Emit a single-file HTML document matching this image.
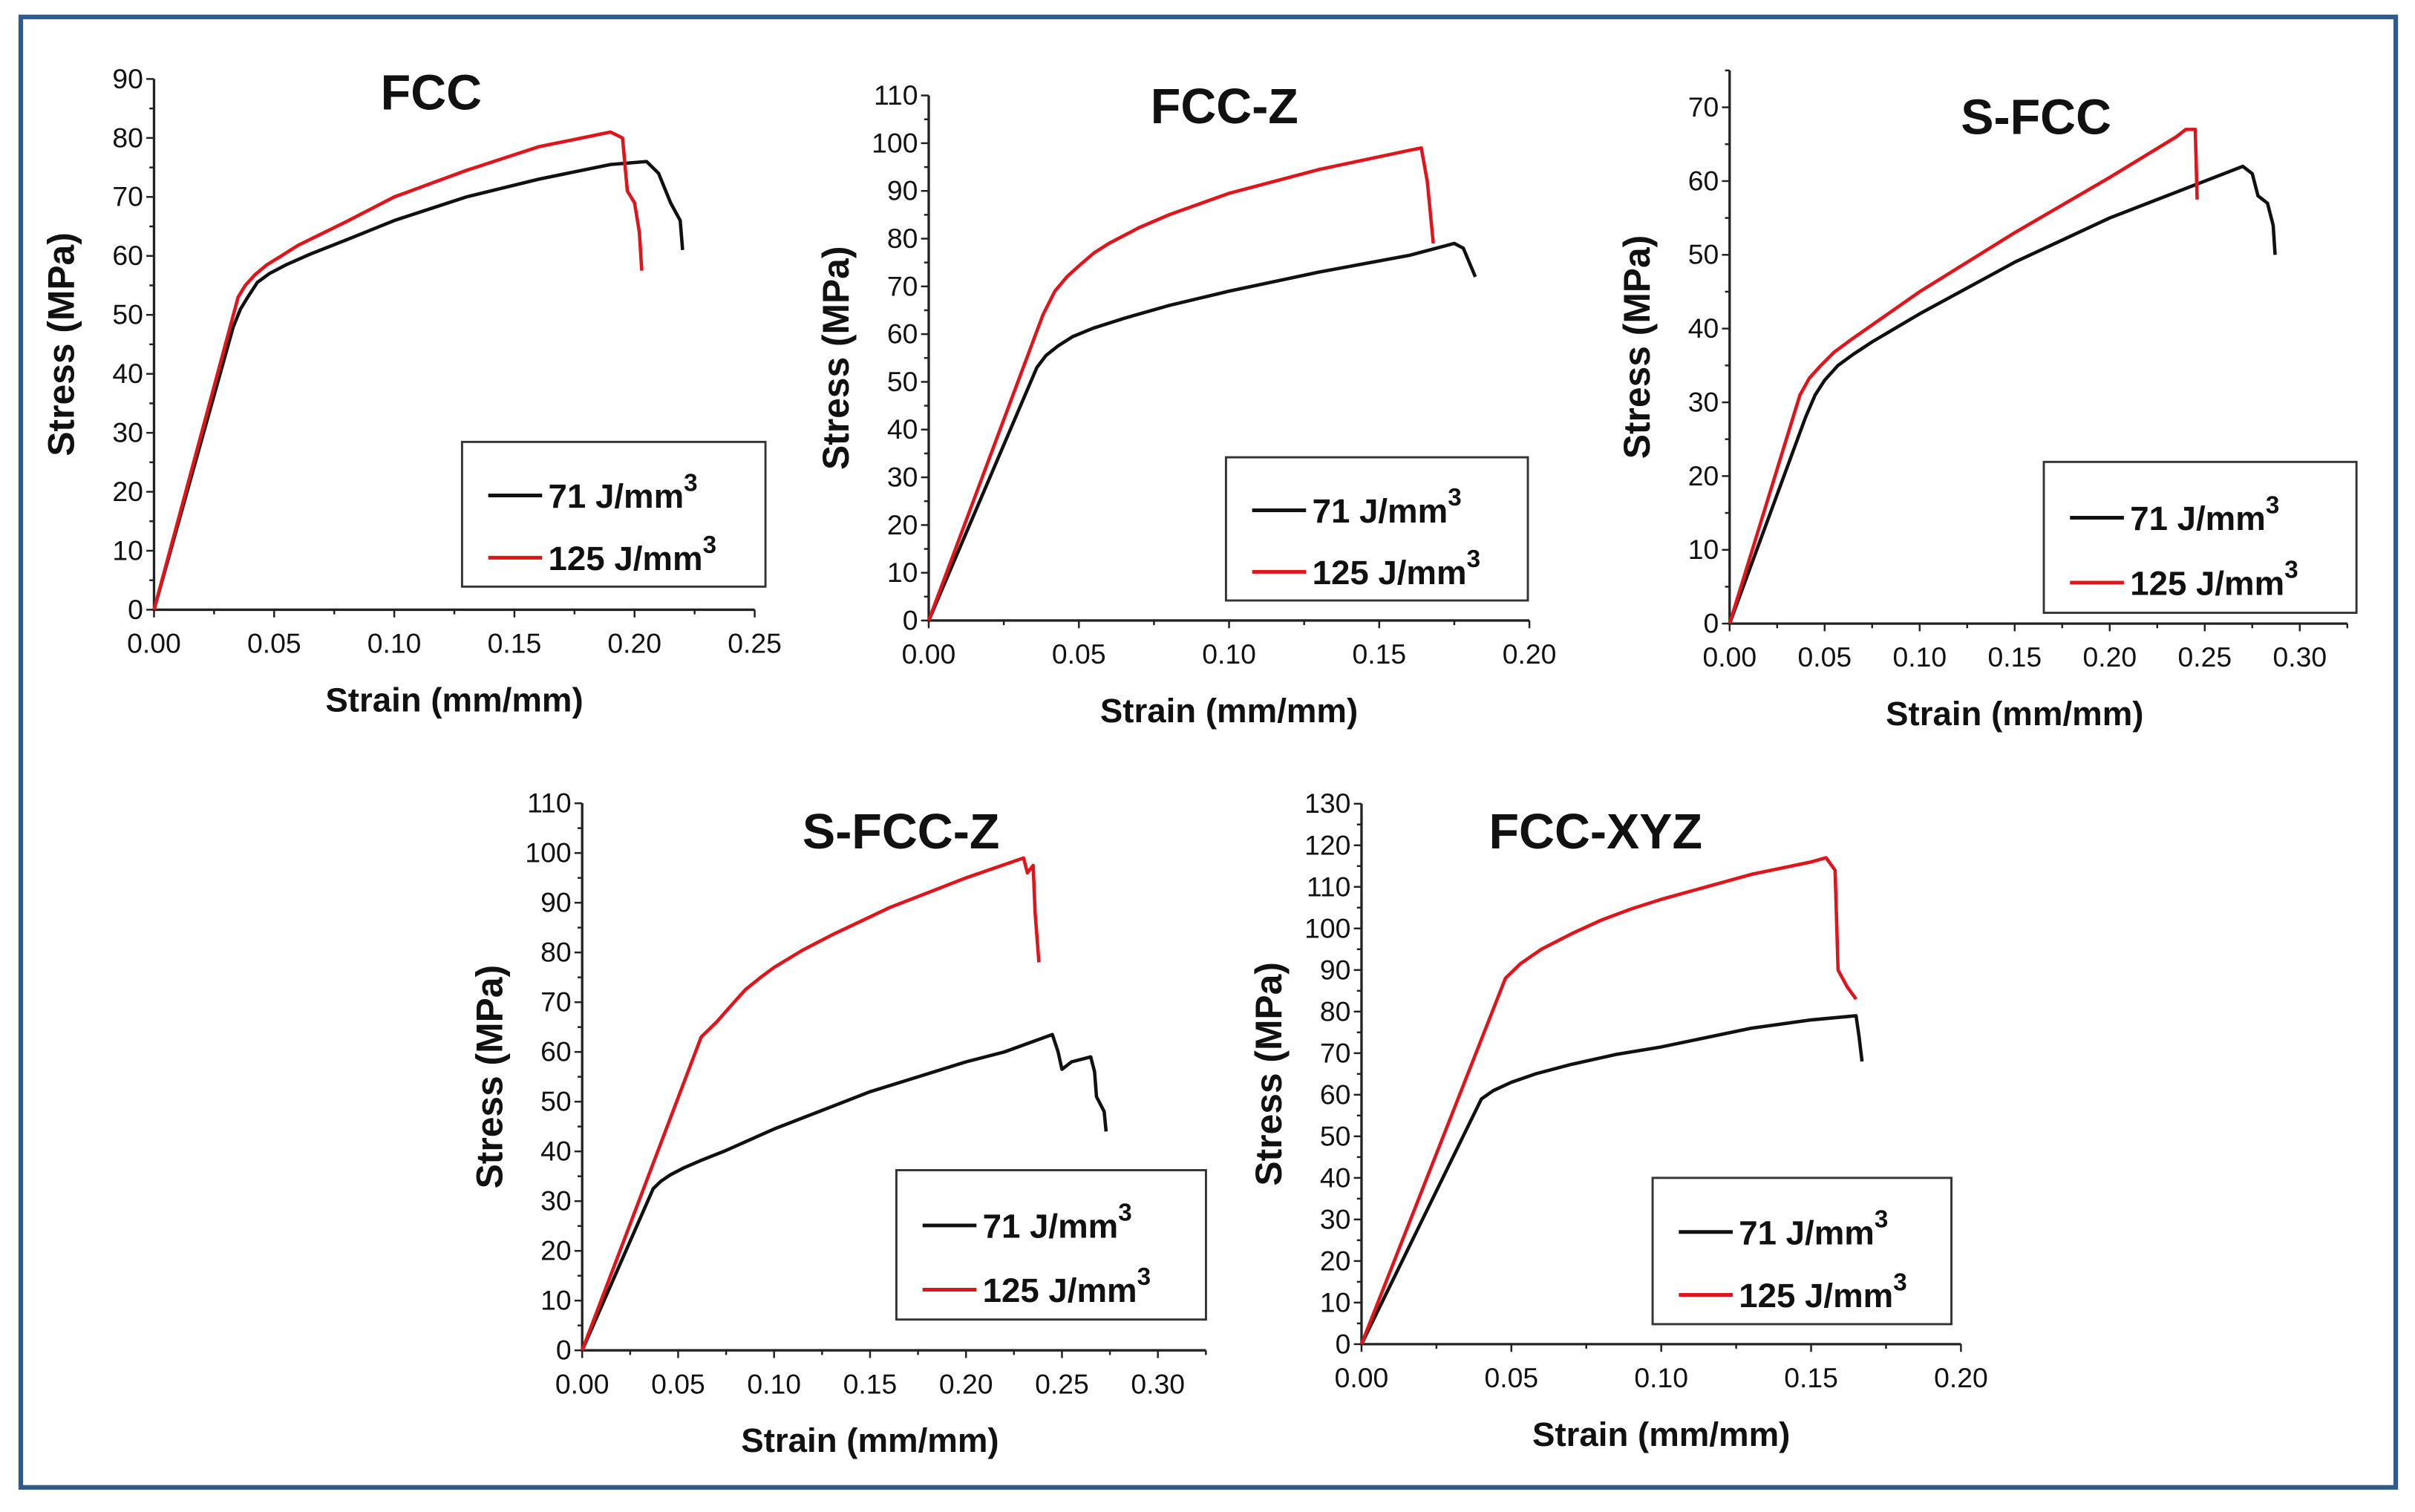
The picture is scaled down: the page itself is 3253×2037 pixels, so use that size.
<!DOCTYPE html>
<html><head><meta charset="utf-8"><style>
html,body{margin:0;padding:0;background:#fff;}
svg{display:block;}
text{font-family:"Liberation Sans",Arial,sans-serif;fill:#111;}
</style></head><body>
<svg id="fig" xmlns="http://www.w3.org/2000/svg" width="3253" height="2037" viewBox="0 0 1568 982" preserveAspectRatio="none">
<rect x="13.5" y="11" width="1542" height="955" fill="#fff" stroke="#2d5b8c" stroke-width="3"/>
</svg>
<script>
// FCC
const fccStrain71 = [0,0.033,0.036,0.039,0.043,0.048,0.055,0.065,0.08,0.10,0.13,0.16,0.19,0.205,0.21,0.215,0.219,0.22];
const fccStress71 = [0,48,51,53,55.5,57,58.5,60.3,62.7,66,70,73,75.5,76,74,69,66,61];
const fccStrain125 = [0,0.035,0.038,0.042,0.047,0.053,0.06,0.07,0.08,0.10,0.13,0.16,0.19,0.195,0.197,0.2,0.202,0.203];
const fccStress125 = [0,53,55,56.8,58.5,60,61.8,63.8,65.8,70,74.5,78.5,81,80,71,69,64,57.5];
// FCC-Z
const fcczStrain71 = [0,0.036,0.039,0.043,0.048,0.055,0.065,0.08,0.10,0.13,0.16,0.175,0.178,0.182];
const fcczStress71 = [0,53,55.5,57.5,59.5,61.3,63.3,66,69,73,76.5,79,78,72];
const fcczStrain125 = [0,0.038,0.042,0.046,0.05,0.055,0.06,0.07,0.08,0.10,0.13,0.16,0.164,0.166,0.168];
const fcczStress125 = [0,64,69,72,74.3,77,79,82.3,85,89.5,94.5,98.5,99,92,79];
// S-FCC
const sfccStrain71 = [0,0.04,0.045,0.05,0.057,0.065,0.075,0.10,0.15,0.20,0.25,0.27,0.275,0.278,0.283,0.286,0.287];
const sfccStress71 = [0,28,31,33,35,36.5,38.2,42,49,55,60,62,61,58,57,54,50];
const sfccStrain125 = [0,0.037,0.042,0.048,0.055,0.065,0.075,0.10,0.15,0.20,0.235,0.24,0.245,0.246];
const sfccStress125 = [0,31,33.3,35,36.8,38.7,40.5,45,53,60.5,66,67,67,57.5];
// S-FCC-Z
const sfcczStrain71 = [0,0.037,0.041,0.046,0.053,0.062,0.075,0.10,0.15,0.20,0.22,0.245,0.248,0.25,0.255,0.265,0.267,0.268,0.272,0.273];
const sfcczStress71 = [0,32.5,34,35.3,36.7,38.2,40.2,44.5,52,58,60,63.5,60,56.5,58,59,56,51,48,44];
const sfcczStrain125 = [0,0.062,0.07,0.078,0.085,0.093,0.10,0.115,0.13,0.16,0.20,0.23,0.232,0.235,0.236,0.238];
const sfcczStress125 = [0,63,66,69.5,72.5,75,77,80.5,83.5,89,95,99,96,97.5,88,78];
// FCC-XYZ
const xyzStrain71 = [0,0.04,0.044,0.05,0.058,0.07,0.085,0.10,0.13,0.15,0.165,0.166,0.167];
const xyzStress71 = [0,59,61,63,65,67.3,69.7,71.5,76,78,79,74,68];
const xyzStrain125 = [0,0.048,0.053,0.06,0.07,0.08,0.09,0.10,0.13,0.15,0.155,0.158,0.159,0.162,0.164,0.165];
const xyzStress125 = [0,88,91.5,95,98.7,102,104.7,107,113,116,117,114,90,86,84,83];
// tick labels
const xTicks25 = ["0.00","0.05","0.10","0.15","0.20","0.25"];
const xTicks20 = ["0.00","0.05","0.10","0.15","0.20"];
const xTicks30 = ["0.00","0.05","0.10","0.15","0.20","0.25","0.30"];
const legendLabels = ["71 J/mm","125 J/mm"];

const NS="http://www.w3.org/2000/svg";
const svg=document.getElementById('fig');
function mk(tag,attrs,parent){const e=document.createElementNS(NS,tag);for(const k in attrs)e.setAttribute(k,attrs[k]);(parent||svg).appendChild(e);return e;}

function chart(c){
  const g=mk('g',{});
  
  
  const sx=v=>c.x0+(v/c.xstep)*c.xpx;
  const sy=v=>c.y0-(v/c.ystep)*c.ypx;
  const xEnd=sx(c.xmax), yTop=sy(c.ymax);
  const ax=mk('path',{d:`M${c.x0},${yTop}V${c.y0}H${xEnd}`,fill:'none',stroke:'#222','stroke-width':1.6},g);
  
  
  for(let v=0; v<=c.ymax+1e-9; v+=c.ystep/2){
    const major=Math.abs((v/c.ystep)-Math.round(v/c.ystep))<1e-6;
    const y=sy(v);
    mk('line',{x1:c.x0,x2:c.x0-(major?5:3),y1:y,y2:y,stroke:'#222','stroke-width':1.2},g);
    if(major && v<=c.ylabelMax+1e-9){
      const t=mk('text',{x:c.x0-7,y:y+6,'text-anchor':'end','font-size':18},g);
      
      
      t.textContent=String(Math.round(v));
    }
  }
  for(let v=0; v<=c.xmax+1e-9; v+=c.xstep/2){
    const major=Math.abs((v/c.xstep)-Math.round(v/c.xstep))<1e-6;
    const x=sx(v);
    mk('line',{x1:x,x2:x,y1:c.y0,y2:c.y0+(major?5:3),stroke:'#222','stroke-width':1.2},g);
  }
  c.xticks.forEach((lab,i)=>{
    const t=mk('text',{x:sx(i*c.xstep),y:c.y0+28,'text-anchor':'middle','font-size':18},g);
    
    
    t.textContent=lab;
  });
  const xt=mk('text',{x:(c.x0+sx((c.xticks.length-1)*c.xstep))/2,y:c.y0+66,'text-anchor':'middle','font-size':22,'font-weight':'bold'},g);
  
  
  xt.textContent='Strain (mm/mm)';
  const ymid=(c.y0+yTop)/2;
  const yt=mk('text',{x:c.x0-52,y:ymid,'text-anchor':'middle','font-size':24,'font-weight':'bold',transform:`rotate(-90 ${c.x0-52} ${ymid})`},g);
  
  
  yt.textContent='Stress (MPa)';
  const tt=mk('text',{x:c.tx,y:c.ty,'text-anchor':'middle','font-size':32,'font-weight':'bold'},g);
  
  
  tt.textContent=c.title;
  [[c.s71x,c.s71y,'#111','71'],[c.s125x,c.s125y,'#e0141b','125']].forEach(s=>{
    const d=s[0].map((v,i)=>(i?'L':'M')+sx(v).toFixed(2)+','+sy(s[1][i]).toFixed(2)).join('');
    const p=mk('path',{d:d,fill:'none',stroke:s[2],'stroke-width':2.2,'stroke-linejoin':'round'},g);
    
    
  });
  const L=c.leg;
  const lg=mk('g',{},g);
  
  
  mk('rect',{x:L[0],y:L[1],width:L[2]-L[0],height:L[3]-L[1],fill:'#fff',stroke:'#333','stroke-width':1.4},lg);
  const h=L[3]-L[1];
  [['#111',0.37],['#e0141b',0.8]].forEach((e,i)=>{
    const yy=L[1]+h*e[1];
    mk('line',{x1:L[0]+17,x2:L[0]+52,y1:yy,y2:yy,stroke:e[0],'stroke-width':2.4},lg);
    const t=mk('text',{x:L[0]+56,y:yy+8,'font-size':22,'font-weight':'bold'},lg);
    
    
    t.textContent=legendLabels[i];
    const sp=mk('tspan',{dy:-11,'font-size':16},t);
    sp.textContent='3';
  });
}

chart({id:'fcc',title:'FCC',x0:100,y0:396,xstep:0.05,xpx:78,xmax:0.25,ystep:10,ypx:38.3,ymax:90,ylabelMax:90,xticks:xTicks25,tx:280,ty:71,leg:[300,287,497,381],s71x:fccStrain71,s71y:fccStress71,s125x:fccStrain125,s125y:fccStress125});
chart({id:'fcc-z',title:'FCC-Z',x0:603,y0:403,xstep:0.05,xpx:97.5,xmax:0.20,ystep:10,ypx:31,ymax:110,ylabelMax:110,xticks:xTicks20,tx:795,ty:80,leg:[796,297,992,390],s71x:fcczStrain71,s71y:fcczStress71,s125x:fcczStrain125,s125y:fcczStress125});
chart({id:'s-fcc',title:'S-FCC',x0:1123,y0:405,xstep:0.05,xpx:61.7,xmax:0.325,ystep:10,ypx:47.9,ymax:75,ylabelMax:70,xticks:xTicks30,tx:1322,ty:87,leg:[1327,300,1530,398],s71x:sfccStrain71,s71y:sfccStress71,s125x:sfccStrain125,s125y:sfccStress125});
chart({id:'s-fcc-z',title:'S-FCC-Z',x0:378,y0:877,xstep:0.05,xpx:62.3,xmax:0.325,ystep:10,ypx:32.3,ymax:110,ylabelMax:110,xticks:xTicks30,tx:585,ty:551,leg:[582,760,783,857],s71x:sfcczStrain71,s71y:sfcczStress71,s125x:sfcczStrain125,s125y:sfcczStress125});
chart({id:'fcc-xyz',title:'FCC-XYZ',x0:884,y0:873,xstep:0.05,xpx:97.3,xmax:0.20,ystep:10,ypx:27,ymax:130,ylabelMax:130,xticks:xTicks20,tx:1036,ty:551,leg:[1073,765,1267,860],s71x:xyzStrain71,s71y:xyzStress71,s125x:xyzStrain125,s125y:xyzStress125});
</script>
</body></html>
